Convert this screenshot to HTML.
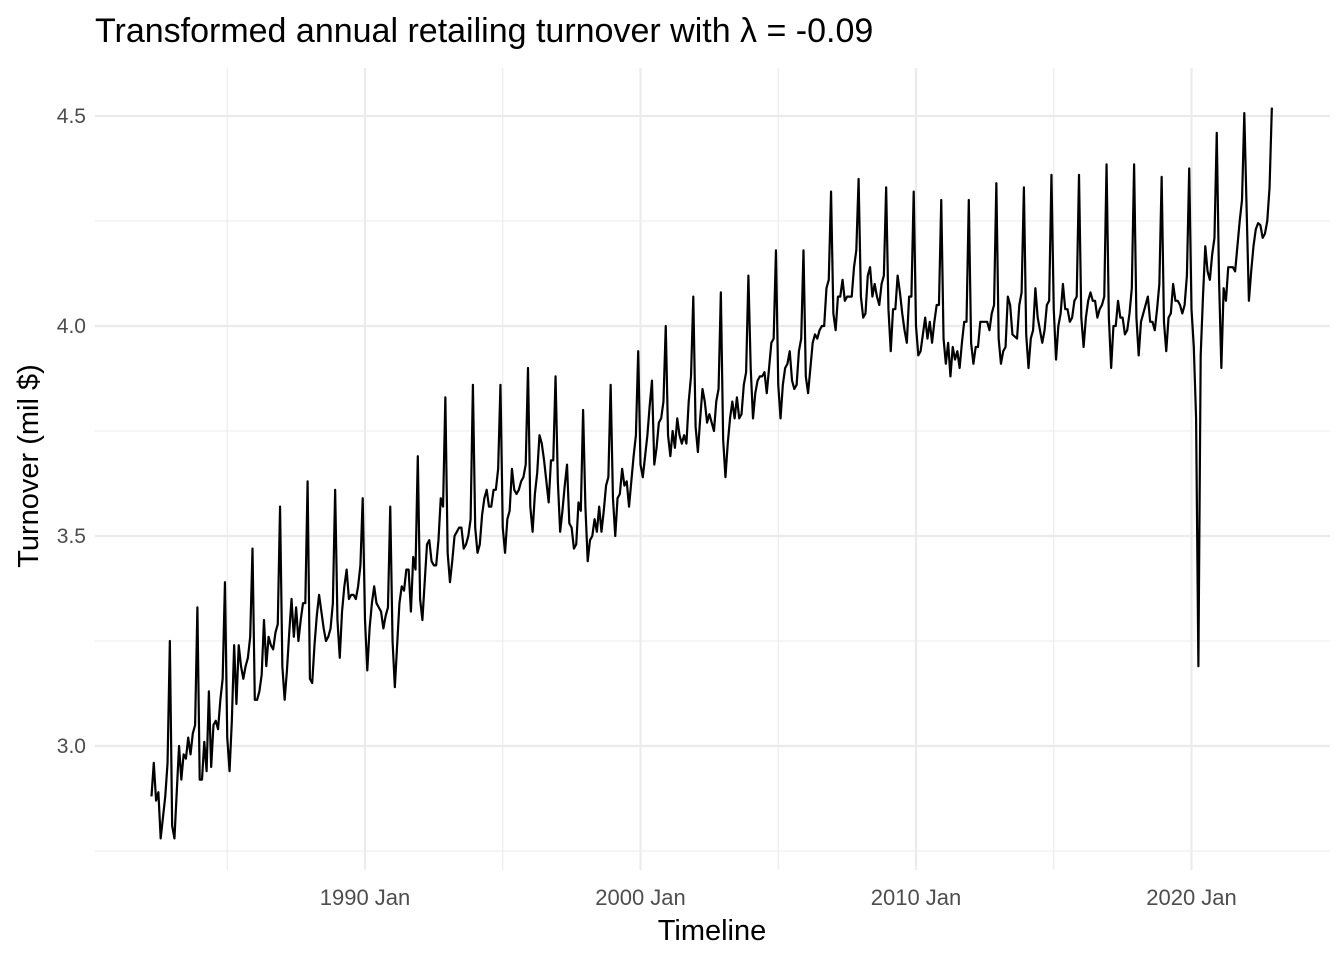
<!DOCTYPE html>
<html><head><meta charset="utf-8">
<style>
html,body{margin:0;padding:0;background:#fff;}
svg{display:block;font-family:"Liberation Sans",Arial,sans-serif;}
</style></head>
<body>
<svg id="chart" width="1344" height="960" viewBox="0 0 1344 960" xmlns="http://www.w3.org/2000/svg">
<text x="95" y="42" font-size="34" fill="#000">Transformed annual retailing turnover with λ = -0.09</text>
<g id="grid"></g>
<g id="yticks"></g>
<g id="xticks"></g>
<g id="series"></g>
<text x="712" y="940" font-size="29" text-anchor="middle" fill="#000">Timeline</text>
<text transform="translate(38,466) rotate(-90)" font-size="29" text-anchor="middle" fill="#000">Turnover (mil $)</text>
</svg>
<script>
const startYear = 1982;
const startMonth = 4;
const turnover = [
/*1982*/ 2.88,2.96,2.87,2.89,2.78,2.83,2.88,2.96,3.25,
/*1983*/ 2.81,2.78,2.89,3.00,2.92,2.98,2.97,3.02,2.98,3.03,3.05,3.33,
/*1984*/ 2.92,2.92,3.01,2.94,3.13,2.95,3.05,3.06,3.04,3.11,3.16,3.39,
/*1985*/ 3.02,2.94,3.06,3.24,3.10,3.24,3.19,3.16,3.19,3.21,3.26,3.47,
/*1986*/ 3.11,3.11,3.13,3.17,3.30,3.19,3.26,3.24,3.23,3.27,3.29,3.57,
/*1987*/ 3.19,3.11,3.18,3.27,3.35,3.26,3.33,3.25,3.30,3.34,3.34,3.63,
/*1988*/ 3.16,3.15,3.24,3.31,3.36,3.32,3.28,3.25,3.26,3.28,3.34,3.61,
/*1989*/ 3.30,3.21,3.32,3.38,3.42,3.35,3.36,3.36,3.35,3.38,3.43,3.59,
/*1990*/ 3.30,3.18,3.28,3.34,3.38,3.34,3.33,3.32,3.28,3.31,3.33,3.57,
/*1991*/ 3.25,3.14,3.24,3.34,3.38,3.37,3.42,3.42,3.32,3.45,3.42,3.69,
/*1992*/ 3.35,3.30,3.39,3.48,3.49,3.44,3.43,3.43,3.49,3.59,3.57,3.83,
/*1993*/ 3.46,3.39,3.44,3.50,3.51,3.52,3.52,3.47,3.48,3.50,3.54,3.86,
/*1994*/ 3.52,3.46,3.48,3.55,3.59,3.61,3.57,3.57,3.61,3.61,3.66,3.86,
/*1995*/ 3.52,3.46,3.54,3.56,3.66,3.61,3.60,3.61,3.63,3.64,3.67,3.90,
/*1996*/ 3.57,3.51,3.60,3.65,3.74,3.72,3.68,3.63,3.58,3.68,3.68,3.88,
/*1997*/ 3.63,3.51,3.56,3.62,3.67,3.53,3.52,3.47,3.48,3.58,3.56,3.80,
/*1998*/ 3.57,3.44,3.49,3.50,3.54,3.51,3.57,3.51,3.56,3.62,3.64,3.86,
/*1999*/ 3.59,3.50,3.59,3.60,3.66,3.62,3.63,3.57,3.63,3.69,3.74,3.94,
/*2000*/ 3.67,3.64,3.69,3.74,3.81,3.87,3.67,3.71,3.77,3.78,3.82,4.00,
/*2001*/ 3.74,3.69,3.75,3.71,3.78,3.74,3.72,3.74,3.72,3.82,3.88,4.07,
/*2002*/ 3.76,3.70,3.78,3.85,3.82,3.77,3.79,3.77,3.75,3.82,3.85,4.08,
/*2003*/ 3.73,3.64,3.72,3.78,3.82,3.78,3.83,3.78,3.79,3.86,3.89,4.12,
/*2004*/ 3.90,3.78,3.84,3.87,3.88,3.88,3.89,3.84,3.90,3.96,3.97,4.18,
/*2005*/ 3.86,3.78,3.86,3.90,3.91,3.94,3.87,3.85,3.86,3.94,3.97,4.18,
/*2006*/ 3.88,3.84,3.90,3.96,3.98,3.97,3.99,4.00,4.00,4.09,4.11,4.32,
/*2007*/ 4.03,3.99,4.07,4.07,4.11,4.06,4.07,4.07,4.07,4.14,4.18,4.35,
/*2008*/ 4.07,4.02,4.03,4.12,4.14,4.07,4.10,4.07,4.05,4.10,4.12,4.33,
/*2009*/ 4.04,3.94,4.04,4.04,4.12,4.08,4.03,3.99,3.96,4.07,4.07,4.32,
/*2010*/ 4.00,3.93,3.94,3.98,4.02,3.97,4.01,3.96,4.01,4.05,4.05,4.30,
/*2011*/ 3.97,3.91,3.96,3.88,3.95,3.92,3.94,3.90,3.96,4.01,4.01,4.30,
/*2012*/ 3.96,3.91,3.95,3.95,4.01,4.01,4.01,4.01,3.99,4.03,4.05,4.34,
/*2013*/ 3.97,3.91,3.94,3.95,4.07,4.05,3.98,3.975,3.97,4.05,4.08,4.33,
/*2014*/ 3.98,3.90,3.97,3.99,4.09,4.02,3.99,3.96,3.99,4.05,4.06,4.36,
/*2015*/ 4.04,3.92,4.00,4.03,4.10,4.04,4.04,4.01,4.02,4.06,4.07,4.36,
/*2016*/ 4.02,3.95,4.02,4.06,4.08,4.06,4.06,4.02,4.04,4.05,4.07,4.385,
/*2017*/ 4.02,3.90,4.00,4.00,4.06,4.02,4.02,3.98,3.99,4.03,4.09,4.385,
/*2018*/ 4.02,3.93,4.01,4.03,4.05,4.07,4.01,4.01,3.99,4.04,4.10,4.355,
/*2019*/ 4.01,3.94,4.02,4.03,4.10,4.06,4.06,4.05,4.03,4.05,4.12,4.375,
/*2020*/ 4.04,3.95,3.78,3.19,3.93,4.07,4.19,4.13,4.11,4.17,4.21,4.46,
/*2021*/ 4.11,3.90,4.09,4.06,4.14,4.14,4.14,4.13,4.19,4.25,4.30,4.507,
/*2022*/ 4.28,4.06,4.13,4.19,4.23,4.245,4.24,4.21,4.22,4.25,4.33,4.52
];
const yMajorTicks = [3.0, 3.5, 4.0, 4.5];
const yTickLabels = ["3.0", "3.5", "4.0", "4.5"];
const yMinorTicks = [2.75, 3.25, 3.75, 4.25];
const xMajorYears = [1990, 2000, 2010, 2020];
const xTickLabels = ["1990 Jan", "2000 Jan", "2010 Jan", "2020 Jan"];
const xMinorYears = [1985, 1995, 2005, 2015];

const NS = "http://www.w3.org/2000/svg";
const panel = {left: 95, right: 1330, top: 68, bottom: 870};
function xScale(t) { return 365 + (t - 1990) * 27.55; }
function yScale(v) { return 326 - (v - 4.0) * 420; }
function mk(tag, attrs, parent) {
  const e = document.createElementNS(NS, tag);
  for (const k in attrs) e.setAttribute(k, attrs[k]);
  parent.appendChild(e);
  return e;
}
const grid = document.getElementById("grid");
yMinorTicks.forEach(v => {
  const l = mk("line", {x1: panel.left, x2: panel.right, y1: yScale(v), y2: yScale(v), stroke: "#ebebeb", "stroke-width": 1.1}, grid);
  
  
});
xMinorYears.forEach(t => {
  const l = mk("line", {x1: xScale(t), x2: xScale(t), y1: panel.top, y2: panel.bottom, stroke: "#ebebeb", "stroke-width": 1.1}, grid);
  
  
});
const yt = document.getElementById("yticks");
yMajorTicks.forEach((v, i) => {
  const l = mk("line", {x1: panel.left, x2: panel.right, y1: yScale(v), y2: yScale(v), stroke: "#ebebeb", "stroke-width": 2.2}, grid);
  
  
  const t = mk("text", {x: 86, y: yScale(v) + 7, "font-size": 21, "text-anchor": "end", fill: "#4d4d4d"}, yt);
  t.textContent = yTickLabels[i];
  
  
});
const xt = document.getElementById("xticks");
xMajorYears.forEach((yr, i) => {
  const l = mk("line", {x1: xScale(yr), x2: xScale(yr), y1: panel.top, y2: panel.bottom, stroke: "#ebebeb", "stroke-width": 2.2}, grid);
  
  
  const t = mk("text", {x: xScale(yr), y: 905, "font-size": 22, "text-anchor": "middle", fill: "#4d4d4d"}, xt);
  t.textContent = xTickLabels[i];
  
  
});
const pts = turnover.map((v, i) => {
  const t = startYear + (startMonth - 1 + i) / 12;
  return xScale(t).toFixed(2) + "," + yScale(v).toFixed(2);
});
const line = mk("polyline", {points: pts.join(" "), fill: "none", stroke: "#000", "stroke-width": 2.2, "stroke-linejoin": "round"}, document.getElementById("series"));


</script>
</body></html>
